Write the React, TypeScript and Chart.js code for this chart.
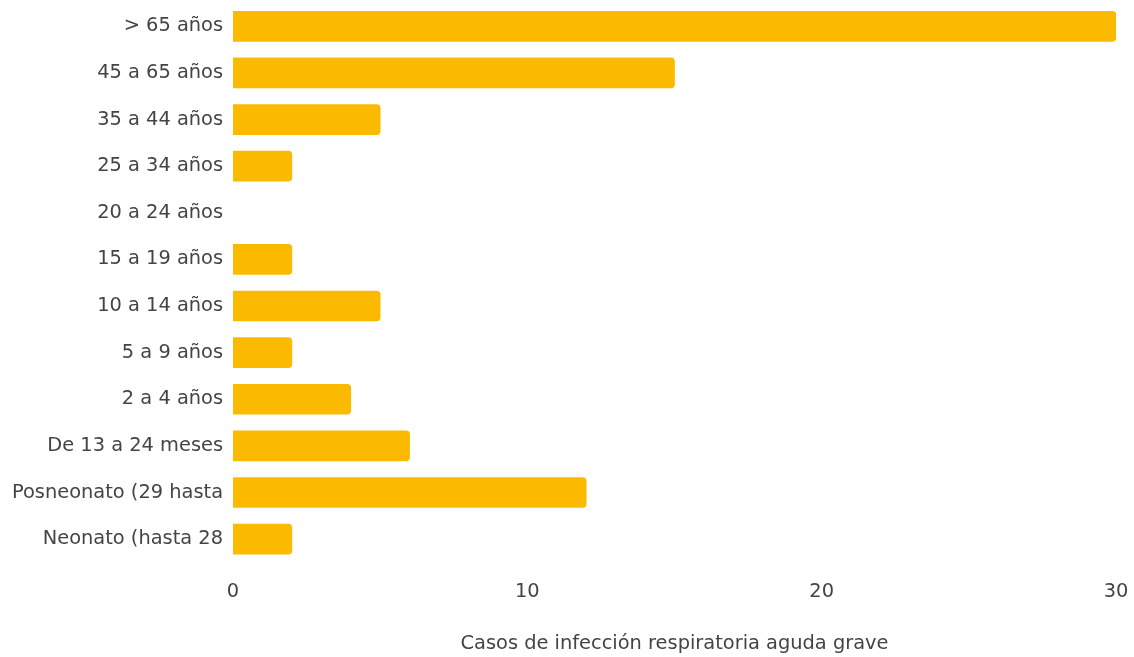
import React, { useEffect, useRef } from "react";
import { Chart, registerables } from "chart.js";

Chart.register(...registerables);

const categories = [
  "> 65 años",
  "45 a 65 años",
  "35 a 44 años",
  "25 a 34 años",
  "20 a 24 años",
  "15 a 19 años",
  "10 a 14 años",
  "5 a 9 años",
  "2 a 4 años",
  "De 13 a 24 meses",
  "Posneonato (29 hasta",
  "Neonato (hasta 28",
];
const casos = [30, 15, 5, 2, 0, 2, 5, 2, 4, 6, 12, 2];
const xTicks = [0, 10, 20, 30];
const xTitle = "Casos de infección respiratoria aguda grave";

export default function App() {
  const ref = useRef<HTMLCanvasElement | null>(null);
  useEffect(() => {
    if (!ref.current) return;
    const font = { family: "'DejaVu Sans', Verdana, sans-serif", size: 19.4 };
    const chart = new Chart(ref.current, {
      type: "bar",
      data: {
        labels: categories,
        datasets: [
          {
            data: casos,
            backgroundColor: (ctx: any) => (ctx.raw === 0 ? "rgba(0,0,0,0)" : "#FBBA00"),
            borderRadius: 4,
            borderSkipped: "start",
            barThickness: 30,
          },
        ],
      },
      options: {
        indexAxis: "y",
        animation: false,
        responsive: false,
        layout: { padding: { top: 3, right: 18, left: 2, bottom: 1 } },
        plugins: { legend: { display: false }, tooltip: { enabled: false } },
        scales: {
          x: {
            min: 0,
            max: 30,
            afterBuildTicks: (axis: any) => {
              axis.ticks = xTicks.map((v) => ({ value: v }));
            },
            afterFit: (scale: any) => {
              scale.paddingLeft = 0;
              scale.paddingRight = 0;
            },
            grid: { display: false, drawTicks: false },
            border: { display: false },
            ticks: { color: "#444", font, padding: 18 },
            title: { display: true, text: xTitle, color: "#444", font, padding: { top: 11, bottom: 0 } },
          },
          y: {
            afterFit: (scale: any) => {
              scale.paddingTop = 0;
              scale.paddingBottom = 0;
            },
            grid: { display: false, drawTicks: false },
            border: { display: false },
            ticks: { color: "#444", font, padding: 10, autoSkip: false },
          },
        },
      },
    });
    return () => chart.destroy();
  }, []);
  return (
    <div style={{ position: "absolute", left: 0, top: 0, width: 1134, height: 657 }}>
      <canvas ref={ref} width={1134} height={657} style={{ width: 1134, height: 657 }} />
    </div>
  );
}
